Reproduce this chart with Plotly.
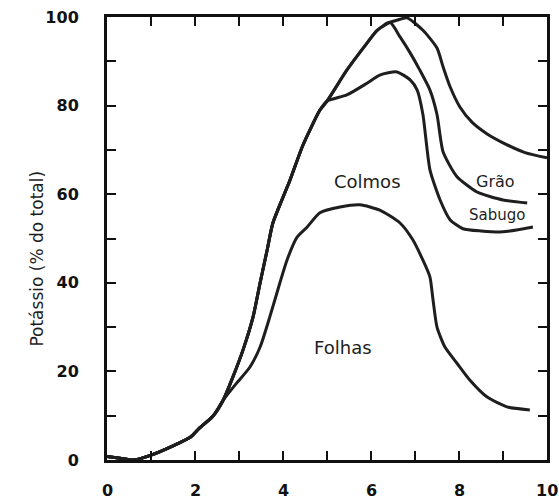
import plotly.graph_objects as go

# Cumulative potassium share (% of total) vs. plant age / stage
folhas_x = [0, 0.3, 0.6, 1.0, 1.5, 1.9, 2.1, 2.4, 2.64, 2.95, 3.25, 3.48, 3.7, 3.93, 4.09,
            4.32, 4.55, 4.84, 5.3, 5.75, 6.2, 6.66, 6.95, 7.18, 7.34, 7.41, 7.5, 7.68,
            7.95, 8.25, 8.64, 9.09, 9.61]
folhas_y = [0.8, 0.4, 0.0, 1.1, 3.2, 5.2, 7.2, 9.8, 13.5, 17.4, 21, 25.5, 32.3, 40, 45.1,
            50.3, 52.6, 55.8, 57.1, 57.6, 56.4, 53.5, 49.7, 45.1, 41.3, 36.1, 30, 25.5,
            21.9, 18, 14.2, 12, 11.3]

base_x = [0, 0.3, 0.6, 1.0, 1.5, 1.9, 2.1, 2.4, 2.64, 2.86, 3.09, 3.32, 3.48, 3.64,
          3.77, 4.16, 4.45, 4.84, 5.0]
base_y = [0.8, 0.4, 0.0, 1.1, 3.2, 5.2, 7.2, 9.8, 13.5, 18.7, 24.8, 32.3, 40, 47.4,
          53.5, 63.2, 71, 79, 81]

colmos_x = base_x + [5.45, 5.9, 6.2, 6.59, 6.89, 7.05, 7.18, 7.34, 7.57, 7.8,
                     8.09, 8.5, 9.0, 9.68]
colmos_y = base_y + [82.4, 85, 86.9, 87.6, 85.8, 83.5, 78, 65.5, 58.7, 54.2,
                     52.2, 51.7, 51.5, 52.6]

rise_x = [5.45, 5.9, 6.14, 6.43]
rise_y = [88, 94, 97, 98.8]

sabugo_x = base_x + rise_x + [6.66, 6.89, 7.11, 7.34, 7.5, 7.64, 7.95, 8.41, 9.0, 9.55]
sabugo_y = base_y + rise_y + [95.5, 91.9, 88, 83.5, 78, 69.5, 64, 60.5, 58.7, 58]

grao_x = base_x + rise_x + [6.6, 6.82, 7.18, 7.5, 7.64, 7.8, 8.02, 8.3, 8.64, 9.0,
                            9.5, 10.0]
grao_y = base_y + rise_y + [99.3, 99.8, 97, 93, 88.7, 84.2, 79.7, 76.2, 73.6, 71.6,
                            69.4, 68.2]

region_labels = ["Colmos", "Grão", "Sabugo", "Folhas"]
label_x = [5.93, 8.82, 8.86, 5.36]
label_y = [62.8, 62.8, 55.3, 25.5]
label_size = [18, 16, 15, 18]

x_ticks = list(range(0, 11))
y_ticks = list(range(0, 101, 10))
x_labels = [0, 2, 4, 6, 8, 10]
# x numbers are placed as annotations below the frame, so the axis keeps blank tick texts
x_text = ["" for _ in x_ticks]
# y labels on every other tick; trailing spaces keep them clear of the frame
y_text = [str(v) + "\u00a0" * 4 if v % 20 == 0 else "" for v in y_ticks]

ink = "#1e1e1e"
fig = go.Figure()
for xs, ys in [(folhas_x, folhas_y), (colmos_x, colmos_y),
               (sabugo_x, sabugo_y), (grao_x, grao_y)]:
    fig.add_trace(go.Scatter(x=xs, y=ys, mode="lines", cliponaxis=False,
                             line=dict(color=ink, width=3, shape="spline", smoothing=0.6),
                             hoverinfo="skip", showlegend=False))

for txt, lx, ly, sz in zip(region_labels, label_x, label_y, label_size):
    fig.add_annotation(x=lx, y=ly, text=txt, showarrow=False,
                       font=dict(family="DejaVu Sans", size=sz, color=ink))

for v in x_labels:
    fig.add_annotation(x=v, xref="x", y=0, yref="paper", yanchor="middle", yshift=-30,
                       text=str(v), showarrow=False,
                       font=dict(family="DejaVu Sans", size=16, color="#111", weight="bold"))

fig.add_annotation(xref="paper", yref="paper", x=-0.186, y=0.455,
                   text="Potássio (% do total)", textangle=-90, showarrow=False,
                   font=dict(family="DejaVu Sans", size=17, color=ink))

axis_common = dict(showline=True, linecolor="#111", linewidth=2.5, mirror="allticks",
                   ticks="inside", ticklen=9, tickwidth=2, tickcolor="#111",
                   layer="above traces", automargin=False,
                   showgrid=False, zeroline=False,
                   tickfont=dict(family="DejaVu Sans", size=16, color="#111", weight="bold"))

fig.update_xaxes(range=[0, 10], tickmode="array", tickvals=x_ticks, ticktext=x_text,
                 **axis_common)
fig.update_yaxes(range=[0, 100], tickmode="array", tickvals=y_ticks, ticktext=y_text,
                 **axis_common)

fig.update_layout(width=559, height=499, margin=dict(l=107, r=12, t=17, b=39),
                  plot_bgcolor="white", paper_bgcolor="white")

fig.write_html("out.html")
